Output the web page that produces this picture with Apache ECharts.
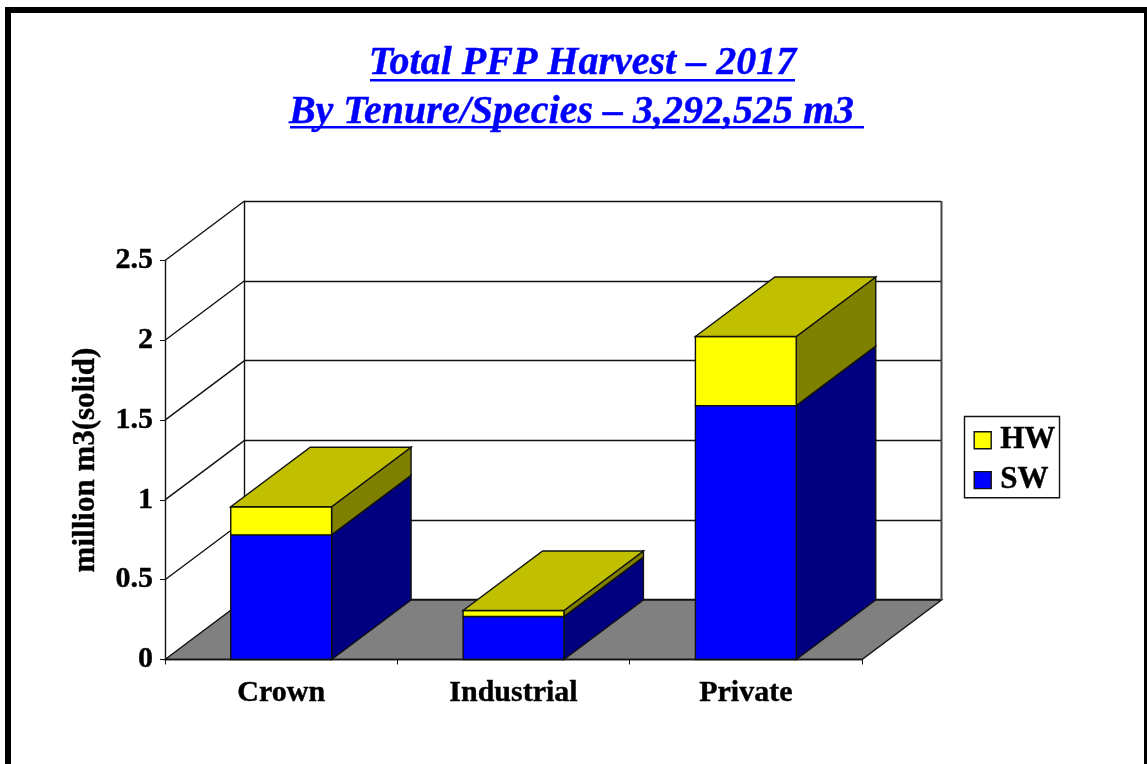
<!DOCTYPE html>
<html>
<head>
<meta charset="utf-8">
<style>html,body{margin:0;padding:0;background:#fff;overflow:hidden}#c{width:1147px;height:764px}</style>
<script src="https://cdn.jsdelivr.net/npm/echarts@6/dist/echarts.min.js"></script>
</head>
<body>
<div id="c"></div>
<script>
var categories = ['Crown', 'Industrial', 'Private'];
var swValues = [0.781, 0.269, 1.591];
var hwValues = [0.176, 0.038, 0.433];
var yTicks = [0, 0.5, 1, 1.5, 2, 2.5];
var titleLines = ['Total PFP Harvest \u2013 2017', 'By Tenure/Species \u2013 3,292,525 m3 '];
var yName = 'million m3(solid)';

var DX = 79.5, DY = -59.5, BAR = 0.434;
var FONT = '"Liberation Serif","Times New Roman",serif';
var LINE = '#111', LW = 1.4;

function boxItem(front, side, top, withTop) {
  return function (params, api) {
    var i = api.value(0);
    var c0 = api.coord([i, api.value(1)]);
    var c1 = api.coord([i, api.value(2)]);
    var w = api.size([1, 0])[0] * BAR;
    var l = c0[0] - w / 2, r = c0[0] + w / 2, b = c0[1], t = c1[1];
    var st = function (color) { return { fill: color, stroke: LINE, lineWidth: LW }; };
    var ch = [
      { type: 'polygon', shape: { points: [[r, b], [r + DX, b + DY], [r + DX, t + DY], [r, t]] }, style: st(side) },
      { type: 'polygon', shape: { points: [[l, b], [r, b], [r, t], [l, t]] }, style: st(front) }
    ];
    if (withTop) {
      ch.push({ type: 'polygon', shape: { points: [[l, t], [r, t], [r + DX, t + DY], [l + DX, t + DY]] }, style: st(top) });
    }
    return { type: 'group', children: ch };
  };
}

var swData = categories.map(function (c, i) { return [i, 0, swValues[i]]; });
var hwData = categories.map(function (c, i) { return [i, swValues[i], swValues[i] + hwValues[i]]; });

var boldText = function (size, color) {
  return { fontFamily: FONT, fontSize: size, fontWeight: 'bold', color: color, textBorderColor: color, textBorderWidth: 0.4 };
};
var titleStyle = boldText(40, '#0000ff');
titleStyle.fontStyle = 'italic';

var option = {
  animation: false,
  backgroundColor: '#fff',
  title: [
    { text: titleLines[0], left: 577.5, top: 39, textAlign: 'center', textStyle: titleStyle },
    { text: titleLines[1], left: 571.5, top: 88, textAlign: 'center', textStyle: titleStyle }
  ],
  legend: {
    orient: 'vertical', left: 964.5, top: 416.5, padding: [8, 4, 2, 9], itemGap: 8.5,
    itemWidth: 17, itemHeight: 17, icon: 'rect', borderColor: LINE, borderWidth: LW, backgroundColor: '#fff',
    selectedMode: false,
    textStyle: Object.assign(boldText(31, '#000'), { padding: [2, 0, 0, 4] }),
    data: [
      { name: 'HW', itemStyle: { color: '#ffff00', borderColor: LINE, borderWidth: LW } },
      { name: 'SW', itemStyle: { color: '#0000ff', borderColor: LINE, borderWidth: LW } }
    ]
  },
  grid: [
    { left: 165, top: 260.5, width: 697, height: 399 },
    { left: 244, top: 201.5, width: 697, height: 398 }
  ],
  xAxis: [
    { type: 'category', gridIndex: 0, data: categories, z: 5,
      axisLine: { lineStyle: { color: LINE, width: LW } },
      axisTick: { show: true, length: 5, alignWithLabel: false, lineStyle: { color: LINE } },
      axisLabel: Object.assign(boldText(30, '#000'), { margin: 19 }) },
    { type: 'category', gridIndex: 1, data: categories, show: false }
  ],
  yAxis: [
    { type: 'value', gridIndex: 0, min: 0, max: 2.5, interval: 0.5, z: 5,
      name: yName, nameLocation: 'middle', nameGap: 64, nameRotate: 90,
      nameTextStyle: boldText(31, '#000'),
      axisLine: { show: true, lineStyle: { color: LINE, width: LW } },
      axisTick: { show: true, length: 5, lineStyle: { color: LINE } },
      axisLabel: Object.assign(boldText(30, '#000'), { margin: 12 }),
      splitLine: { show: false } },
    { type: 'value', gridIndex: 1, min: 0, max: 2.5, interval: 0.5,
      axisLine: { show: true, lineStyle: { color: LINE, width: LW } },
      axisTick: { show: false }, axisLabel: { show: false },
      splitLine: { show: true, lineStyle: { color: LINE, width: LW } } }
  ],
  series: [
    { type: 'custom', name: 'walls', xAxisIndex: 0, yAxisIndex: 0, z: 1, silent: true,
      data: yTicks.map(function (v) { return [0, v]; }),
      renderItem: function (params, api) {
        var cs = params.coordSys, y = api.coord([0, api.value(1)])[1];
        var ch = [];
        if (params.dataIndex === 0) {
          var x0 = cs.x, x1 = cs.x + cs.width;
          ch.push({ type: 'polygon', shape: { points: [[x0, y], [x1, y], [x1 + DX, y + DY], [x0 + DX, y + DY]] },
            style: { fill: '#808080', stroke: LINE, lineWidth: LW } });
          ch.push({ type: 'line', shape: { x1: x1 + DX, y1: y + DY, x2: x1 + DX, y2: cs.y + DY },
            style: { stroke: '#444', lineWidth: 2 } });
        } else {
          ch.push({ type: 'line', shape: { x1: cs.x, y1: y, x2: cs.x + DX, y2: y + DY },
            style: { stroke: LINE, lineWidth: LW } });
        }
        return { type: 'group', children: ch };
      } },
    { type: 'custom', name: 'SW', xAxisIndex: 0, yAxisIndex: 0, z: 2, data: swData,
      itemStyle: { color: '#0000ff' }, encode: { x: 0, y: [1, 2] },
      renderItem: boxItem('#0000ff', '#000080', '#c0c000', false) },
    { type: 'custom', name: 'HW', xAxisIndex: 0, yAxisIndex: 0, z: 3, data: hwData,
      itemStyle: { color: '#ffff00' }, encode: { x: 0, y: [1, 2] },
      renderItem: boxItem('#ffff00', '#808000', '#c0c000', true) }
  ],
  graphic: [
    { type: 'rect', silent: true, z: 100, shape: { x: 8, y: 10, width: 1139, height: 800 },
      style: { fill: 'none', stroke: '#000', lineWidth: 6 } },
    { type: 'rect', silent: true, z: 100, shape: { x: 370, y: 79, width: 425, height: 2.5 }, style: { fill: '#0000ff' } },
    { type: 'rect', silent: true, z: 100, shape: { x: 290, y: 126, width: 574, height: 2.5 }, style: { fill: '#0000ff' } }
  ]
};
var chart = echarts.init(document.getElementById('c'), null, { renderer: 'canvas', width: 1147, height: 764 });
chart.setOption(option);
</script>
</body>
</html>
